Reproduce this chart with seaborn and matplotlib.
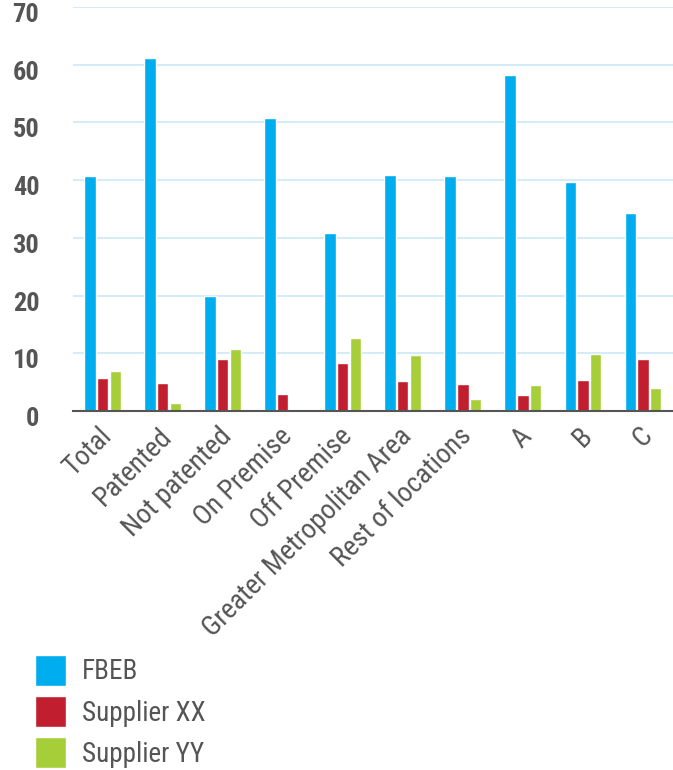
import pandas as pd
import numpy as np
import matplotlib.pyplot as plt
import matplotlib.transforms as mtransforms
import seaborn as sns

# Data
categories = ["Total", "Patented", "Not patented", "On Premise", "Off Premise",
              "Greater Metropolitan Area", "Rest of locations", "A", "B", "C"]
fbeb = [40.8, 61.2, 19.9, 50.7, 30.8, 40.9, 40.7, 58.2, 39.7, 34.4]
supplier_xx = [5.8, 4.9, 9.0, 2.9, 8.4, 5.2, 4.7, 2.8, 5.4, 9.0]
supplier_yy = [6.9, 1.4, 10.8, 0.0, 12.6, 9.8, 2.1, 4.6, 9.9, 4.0]
series = ["FBEB", "Supplier XX", "Supplier YY"]
colors = ["#00AEEF", "#C11F2F", "#A6CE39"]
yticks = [0, 10, 20, 30, 40, 50, 60, 70]

df = pd.DataFrame({
    "category": categories * 3,
    "value": fbeb + supplier_xx + supplier_yy,
    "series": [series[0]] * 10 + [series[1]] * 10 + [series[2]] * 10,
})

sns.set_style("white")
plt.rcParams['font.family'] = ['Roboto Condensed', 'DejaVu Sans']

fig = plt.figure(figsize=(6.73, 7.70), dpi=100)
ax = fig.add_axes([0.108, 0.466, 0.892, 0.525])

sns.barplot(data=df, x="category", y="value", hue="series", palette=colors,
            width=0.64, gap=0.12, saturation=1, ax=ax, legend=True)

ax.set_ylim(0, 70)
ax.set_xlim(-0.5, 9.5)
ax.set_yticks(yticks)
ax.yaxis.grid(True, color="#CBE9F7", linewidth=1.2)
ax.set_axisbelow(True)
for s in ["top", "right", "left"]:
    ax.spines[s].set_visible(False)
ax.spines["bottom"].set_color("#555555")
ax.spines["bottom"].set_linewidth(1.5)
ax.tick_params(axis="both", length=0)
ax.tick_params(axis="y", pad=24, labelsize=19, labelcolor="#555555")
ax.tick_params(axis="x", pad=15, labelsize=20, labelcolor="#555555")
for lab in ax.get_yticklabels():
    lab.set_fontweight("bold")
    lab.set_transform(lab.get_transform() + mtransforms.ScaledTranslation(0, -4 / 72, fig.dpi_scale_trans))
plt.setp(ax.get_xticklabels(), rotation=45, ha="right", va="center", rotation_mode="anchor")
for lab in ax.get_xticklabels():
    lab.set_transform(lab.get_transform() + mtransforms.ScaledTranslation(3.5 / 72, 0, fig.dpi_scale_trans))
ax.set_xlabel("")
ax.set_ylabel("")

handles, labels = ax.get_legend_handles_labels()
ax.get_legend().remove()
fig.legend(handles, labels, loc="upper left", bbox_to_anchor=(35 / 673, 1 - 655 / 770),
           frameon=False, fontsize=19.5, handlelength=1.14, handleheight=1.38,
           labelspacing=0.38, handletextpad=0.6, borderpad=0, borderaxespad=0,
           labelcolor="#555555")

plt.savefig("out.png", dpi=100)
